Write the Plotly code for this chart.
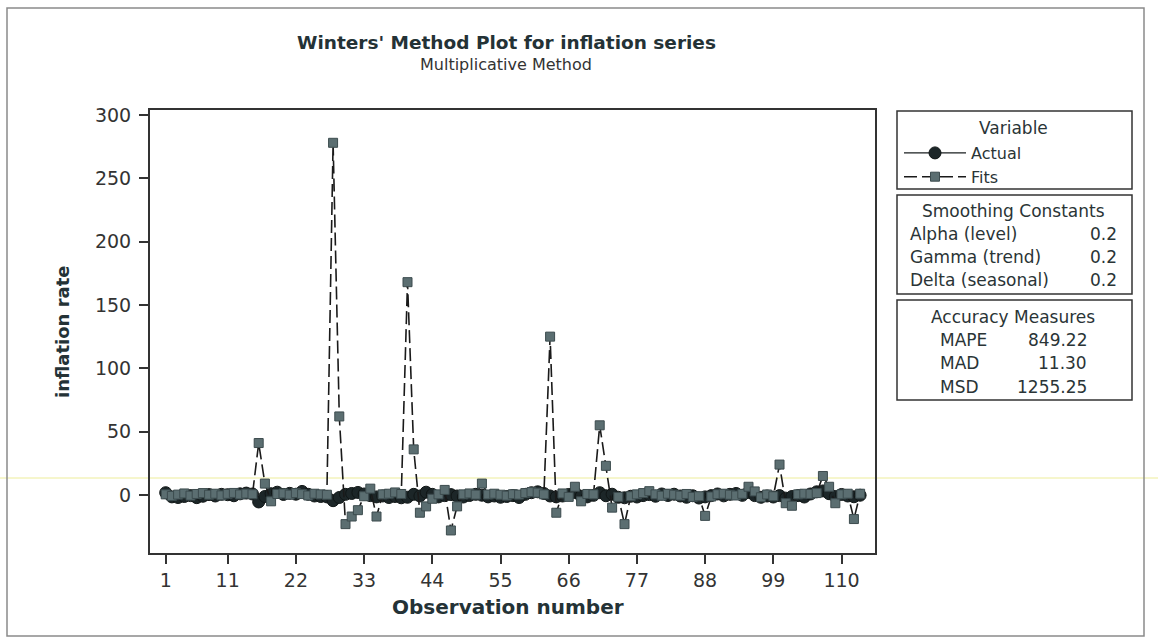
import plotly.graph_objects as go

# ---------------- data ----------------
obs = list(range(1, 114))

actual = [1.8, -1.5, -2.0, -1.2, -0.5, -2.1, -1.0, 0.3, -0.8, 0.5,
          0.2, -0.6, 0.9, 1.5, 0.8, -5.5, -1.2, 1.0, 2.2, 0.4,
          1.3, 0.6, 2.8, 0.5, -0.8, -1.2, -1.5, -4.5, -2.0, 0.5,
          1.2, 2.0, 0.8, -0.5, -1.5, -0.8, -2.0, -1.2, -2.2, -1.8,
          0.5, -0.8, 2.2, 0.5, -1.5, -0.5, 0.3, -0.8, -1.6, -0.4,
          0.5, -0.2, -1.5, -0.8, -1.8, -1.2, -0.5, -2.0, 0.5, 1.8,
          2.5, 1.2, -0.8, -1.5, -0.8, 0.4, 2.0, -1.0, -1.5, -0.3,
          1.8, -0.6, 0.6, -1.8, -2.2, -1.0, -1.6, -0.5, 0.3, -1.0,
          0.8, -0.4, 0.6, -0.8, -1.8, -0.6, -2.4, -1.5, -0.5, 0.8,
          -0.7, 0.5, 1.2, -0.3, 2.0, -0.5, -1.8, -0.8, -1.6, -0.5,
          -2.5, -1.2, -0.5, -1.6, 0.8, 2.5, 3.2, 1.0, -1.2, 0.4,
          -0.8, -1.4, -0.2]

fits = [0.5, -0.8, 0.3, 1.2, -0.5, 0.8, 1.5, 0.2, 1.0, -0.3,
        0.9, 1.6, 0.4, 1.1, 0.6, 41.0, 9.0, -5.0, 0.8, 1.2,
        0.3, 1.5, 0.7, -0.4, 1.0, 0.5, 0.2, 278.0, 62.0, -23.0,
        -17.0, -12.0, -1.0, 5.0, -17.0, 0.5, 1.0, 2.0, 0.8, 168.0,
        36.0, -14.0, -9.0, -3.0, 0.5, 4.0, -28.0, -9.0, 0.5, 1.2,
        0.3, 9.0, 0.4, 1.0, 0.2, -0.5, 0.6, 0.3, 1.5, 2.3,
        1.8, 0.5, 125.0, -14.0, 1.2, -1.5, 6.5, -5.0, 0.8, 0.5,
        55.0, 23.0, -10.0, -1.5, -23.0, -1.0, 0.5, 1.5, 3.0, 0.5,
        -0.6, 1.0, 0.2, -0.5, 0.8, -1.5, -1.0, -16.5, -1.2, 0.6,
        1.0, 0.2, -0.4, 0.9, 6.5, 2.8, -1.8, 0.4, -1.0, 24.0,
        -6.5, -8.5, 0.5, 1.0, 0.8, 1.5, 15.0, 6.5, -6.5, 0.5,
        1.0, -19.0, 1.0]

x_ticks = [1, 11, 22, 33, 44, 55, 66, 77, 88, 99, 110]
y_ticks = [0, 50, 100, 150, 200, 250, 300]

smoothing_labels = ["Alpha (level)", "Gamma (trend)", "Delta (seasonal)"]
smoothing_values = ["0.2", "0.2", "0.2"]
accuracy_labels = ["MAPE", "MAD", "MSD"]
accuracy_values = ["849.22", "11.30", "1255.25"]

# ---------------- layout helpers (pixel -> paper) ----------------
W, H = 1158, 643
PL, PR, PT, PB = 150, 875, 110, 553


def xp(px):
    return (px - PL) / (PR - PL)


def yp(py):
    return (PB - py) / (PB - PT)


FONT = "DejaVu Sans, Verdana, sans-serif"
TXT = "#2a3436"

fig = go.Figure()

fig.add_trace(go.Scatter(
    x=obs, y=actual, name="Actual", mode="lines+markers",
    line=dict(color="#1a1f20", width=1.3),
    marker=dict(symbol="circle", size=12, color="#1c2628",
                line=dict(color="#101616", width=1)),
))
fig.add_trace(go.Scatter(
    x=obs, y=fits, name="Fits", mode="lines+markers",
    line=dict(color="#1a1a1a", width=1.6, dash="13px,5px"),
    marker=dict(symbol="square", size=9, color="#5b6e71",
                line=dict(color="#3c4b4e", width=1)),
))

axis_common = dict(
    showline=True, mirror=True, linecolor="#333", linewidth=2,
    ticks="outside", ticklen=9, tickwidth=1.5, tickcolor="#333",
    showgrid=False, zeroline=False,
    tickfont=dict(family=FONT, size=19, color="#333"),
)

fig.update_layout(
    width=W, height=H,
    margin=dict(l=PL, r=W - PR, t=PT, b=H - PB),
    paper_bgcolor="white", plot_bgcolor="rgba(0,0,0,0)",
    font=dict(family=FONT, color=TXT),
    xaxis=dict(range=[-1.53, 115.4], tickmode="array", tickvals=x_ticks,
               **axis_common),
    yaxis=dict(range=[-45.8, 303.9], tickmode="array", tickvals=y_ticks,
               ticklabelstandoff=4, **axis_common),
    showlegend=True,
    legend=dict(x=xp(899), y=yp(136), xanchor="left", yanchor="top",
                bgcolor="rgba(0,0,0,0)", borderwidth=0, itemwidth=62,
                tracegroupgap=0,
                font=dict(family=FONT, size=16, color=TXT)),
)

shapes = []
# scan artifact line and outer frame
shapes.append(dict(type="line", xref="paper", yref="paper",
                   x0=xp(0), x1=xp(W), y0=yp(478), y1=yp(478),
                   line=dict(color="#eded9a", width=1), layer="below"))
shapes.append(dict(type="rect", xref="paper", yref="paper",
                   x0=xp(7), x1=xp(1144), y0=yp(636), y1=yp(8),
                   line=dict(color="#8a8a8a", width=1.5), layer="below"))
# legend / info boxes
for top, bot in [(111, 189), (195, 294), (300, 400)]:
    shapes.append(dict(type="rect", xref="paper", yref="paper",
                       x0=xp(897), x1=xp(1132), y0=yp(bot), y1=yp(top),
                       line=dict(color="#333", width=1.5), layer="below"))
fig.update_layout(shapes=shapes)

ann = []


def add_text(text, px, py, size, xanchor="center", bold=False, angle=0,
             color=TXT):
    ann.append(dict(text=f"<b>{text}</b>" if bold else text,
                    x=xp(px), y=yp(py), xref="paper", yref="paper",
                    xanchor=xanchor, yanchor="middle", showarrow=False,
                    textangle=angle,
                    font=dict(family=FONT, size=size, color=color)))


add_text("Winters' Method Plot for inflation series", 506, 42, 18.5,
         bold=True, color="#243236")
add_text("Multiplicative Method", 506, 65, 16, color="#333")
add_text("Observation number", 508, 607, 20, bold=True, color="#243236")
add_text("inflation rate", 62, 332, 18, bold=True, angle=-90, color="#243236")

add_text("Variable", 1014, 128, 17)
add_text("Smoothing Constants", 1013, 211, 17)
for i, (lab, val) in enumerate(zip(smoothing_labels, smoothing_values)):
    y = 234 + i * 23
    add_text(lab, 908, y, 17, xanchor="left")
    add_text(val, 1119, y, 17, xanchor="right")
add_text("Accuracy Measures", 1013, 317, 17)
for i, (lab, val) in enumerate(zip(accuracy_labels, accuracy_values)):
    y = 340 + i * 23.3
    add_text(lab, 938, y, 17, xanchor="left")
    add_text(val, 1089, y, 17, xanchor="right")

fig.update_layout(annotations=ann)

fig.write_html("out.html")
